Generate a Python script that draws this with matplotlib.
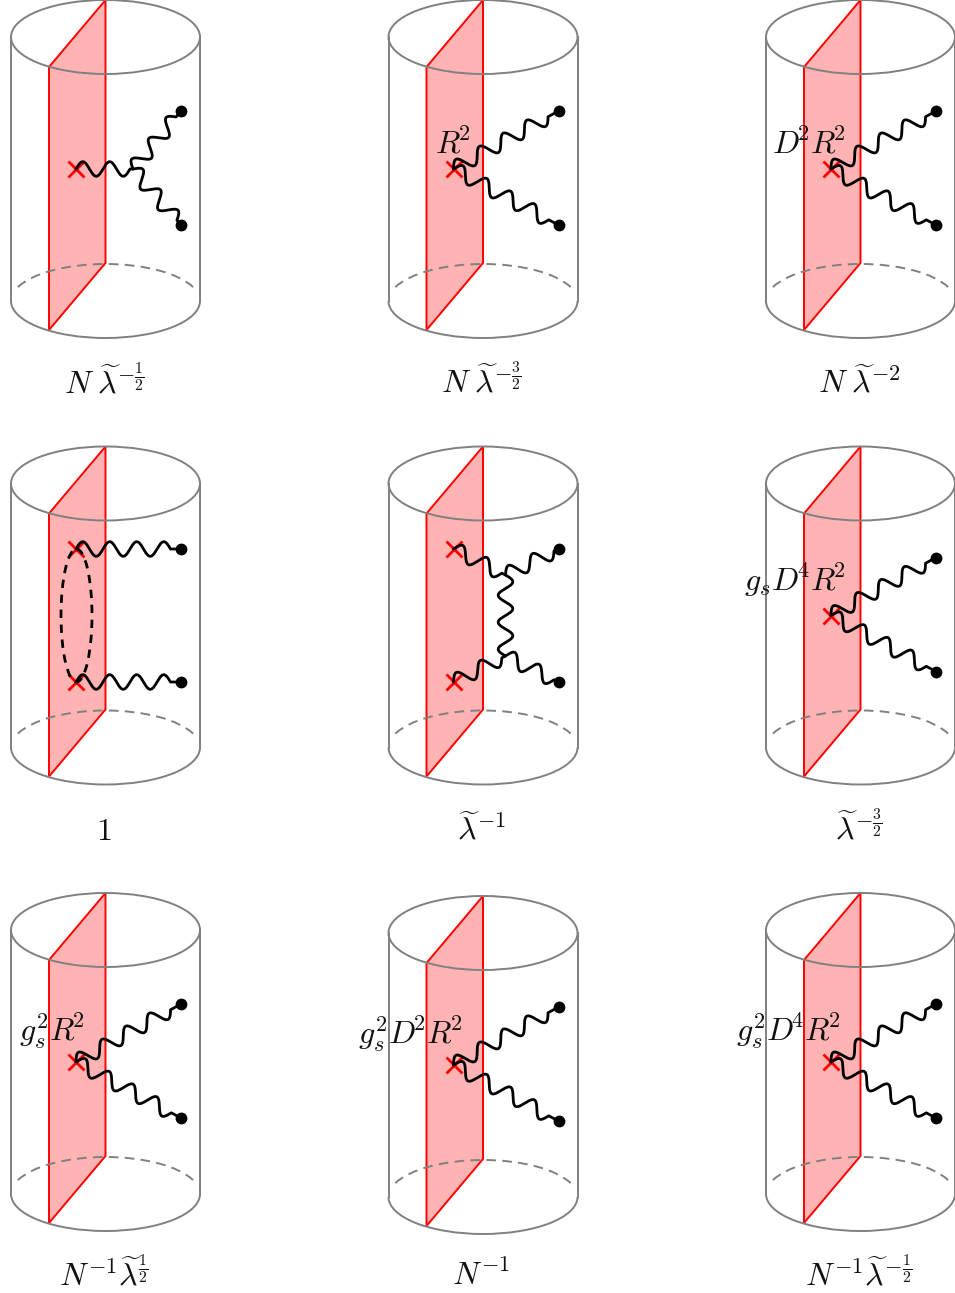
import numpy as np
import matplotlib
matplotlib.use("Agg")
import matplotlib.pyplot as plt
from matplotlib.patches import Arc, Ellipse, Polygon

plt.rcParams["mathtext.fontset"] = "cm"

# cell origins, pixel units of the reference
col_x = [0, 377.5, 755]
row_y = [[0, 0, 0], [446.5, 446.5, 446.5], [893, 896, 893]]

# caption under each cylinder
captions = [
    [r"$N\;\widetilde{\lambda}^{-\frac{1}{2}}$", r"$N\;\widetilde{\lambda}^{-\frac{3}{2}}$", r"$N\;\widetilde{\lambda}^{-2}$"],
    [r"$1$", r"$\widetilde{\lambda}^{-1}$", r"$\widetilde{\lambda}^{-\frac{3}{2}}$"],
    [r"$N^{-1}\widetilde{\lambda}^{\frac{1}{2}}$", r"$N^{-1}$", r"$N^{-1}\widetilde{\lambda}^{-\frac{1}{2}}$"],
]
caption_y = [393, 840, 1285]

# tightens the superscript after capitals
K = r"\hspace{-0.09}"

# vertex labels: row, col, text, left edge, baseline
vertex_labels = [
    (0, 1, rf"$R{K}^2$", 435, 153),
    (0, 2, rf"$D{K}^2R{K}^2$", 772, 153),
    (1, 2, rf"$g_sD{K}^4R{K}^2$", 744, 591),
    (2, 0, rf"$g_s^2R{K}^2$", 19, 1041),
    (2, 1, rf"$g_s^2D{K}^2R{K}^2$", 358, 1044),
    (2, 2, rf"$g_s^2D{K}^4R{K}^2$", 736, 1041),
]

# graph pieces, relative to cell origin
single_cross = [(76, 169)]
double_ends = [(181, 111), (181, 225)]
fork = [((76, 169), (181, 111)), ((76, 169), (181, 225))]

# row, col, crosses, wavy lines (start, end), blobs
graphs = [
    (0, 0, single_cross, [((76, 169), (133, 169)), ((133, 169), (181, 111)), ((133, 169), (181, 225))], double_ends),
    (0, 1, single_cross, fork, double_ends),
    (0, 2, single_cross, fork, double_ends),
    (1, 0, [(76, 102.5), (76, 235.5)], [((76, 102.5), (181, 102.5)), ((76, 235.5), (181, 235.5))], [(181, 102.5), (181, 235.5)]),
    (1, 1, [(76, 102.5), (76, 235.5)],
     [((76, 102.5), (128, 128.5)), ((128, 128.5), (181, 102.5)), ((128, 128.5), (128, 209.5)),
      ((76, 235.5), (128, 209.5)), ((128, 209.5), (181, 235.5))], [(181, 102.5), (181, 235.5)]),
    (1, 2, single_cross, fork, double_ends),
    (2, 0, single_cross, fork, double_ends),
    (2, 1, single_cross, fork, double_ends),
    (2, 2, single_cross, fork, double_ends),
]

GREY = "#808080"
PINK = "#ffb3b3"
LW = 1.4
WAVE_LW = 2.0


def snake(ax, p, q, period=27.0, amp=7.3, tail=3.0):
    p = np.array(p, float)
    q = np.array(q, float)
    length = np.hypot(*(q - p))
    # whole half waves, the rest is a straight bit
    half = int((length - tail) / (period / 2) + 0.25)
    s = np.linspace(0, min(half * period / 2, length), 300)
    d = (q - p) / length
    nrm = np.array([d[1], -d[0]])
    off = amp * np.sin(2 * np.pi * s / period)
    pts = p + np.outer(s, d) + np.outer(off, nrm)
    pts = np.vstack([pts, q])
    ax.plot(pts[:, 0], pts[:, 1], color="k", lw=WAVE_LW, solid_capstyle="round", zorder=5)


def cylinder(ax, x0, y0):
    cx = x0 + 105.5
    ax.add_patch(Polygon([(x0 + 49, y0 + 67), (cx, y0), (cx, y0 + 263), (x0 + 49, y0 + 330)],
                         closed=True, fc=PINK, ec="red", lw=LW, zorder=2))
    ax.add_patch(Ellipse((cx, y0 + 37), 189, 74, fc="none", ec=GREY, lw=LW, zorder=3))
    ax.add_patch(Arc((cx, y0 + 301), 189, 74, theta1=0, theta2=180, ec=GREY, lw=LW, zorder=3))
    ax.add_patch(Arc((cx, y0 + 301), 189, 74, theta1=189, theta2=351, ec=GREY, lw=LW,
                     ls=(0, (5, 3.2)), zorder=3))
    for xs in (cx - 94.5, cx + 94.5):
        ax.plot([xs, xs], [y0 + 37, y0 + 301], color=GREY, lw=LW, zorder=3)


fig = plt.figure(figsize=(9.55, 12.93), dpi=100)
ax = fig.add_axes([0, 0, 1, 1])
ax.set_xlim(0, 955)
ax.set_ylim(1293, 0)
ax.axis("off")

for r, rows in enumerate(row_y):
    for c, y0 in enumerate(rows):
        cylinder(ax, col_x[c], y0)
        ax.text(col_x[c] + 104, caption_y[r], captions[r][c], fontsize=23,
                ha="center", va="baseline", color="#111111", zorder=7)

for r, c, crosses, lines, blobs in graphs:
    x0, y0 = col_x[c], row_y[r][c]
    for p, q in lines:
        snake(ax, (p[0] + x0, p[1] + y0), (q[0] + x0, q[1] + y0))
    for p in crosses:
        ax.plot(p[0] + x0, p[1] + y0, marker="x", color="red", ms=11.5, mew=2.0, zorder=4)
    for p in blobs:
        ax.plot(p[0] + x0, p[1] + y0, marker="o", color="k", ms=8.5, mew=0, zorder=6)

# dashed loop between the two crosses
ax.add_patch(Ellipse((76.5, 615.5), 31, 133, fc="none", ec="k", lw=WAVE_LW, ls=(0, (3, 2.4)), zorder=5))

for r, c, txt, x, y in vertex_labels:
    ax.text(x, y, txt, fontsize=23, ha="left", va="baseline", color="#111111", zorder=7)

fig.savefig("out.png", dpi=100)
